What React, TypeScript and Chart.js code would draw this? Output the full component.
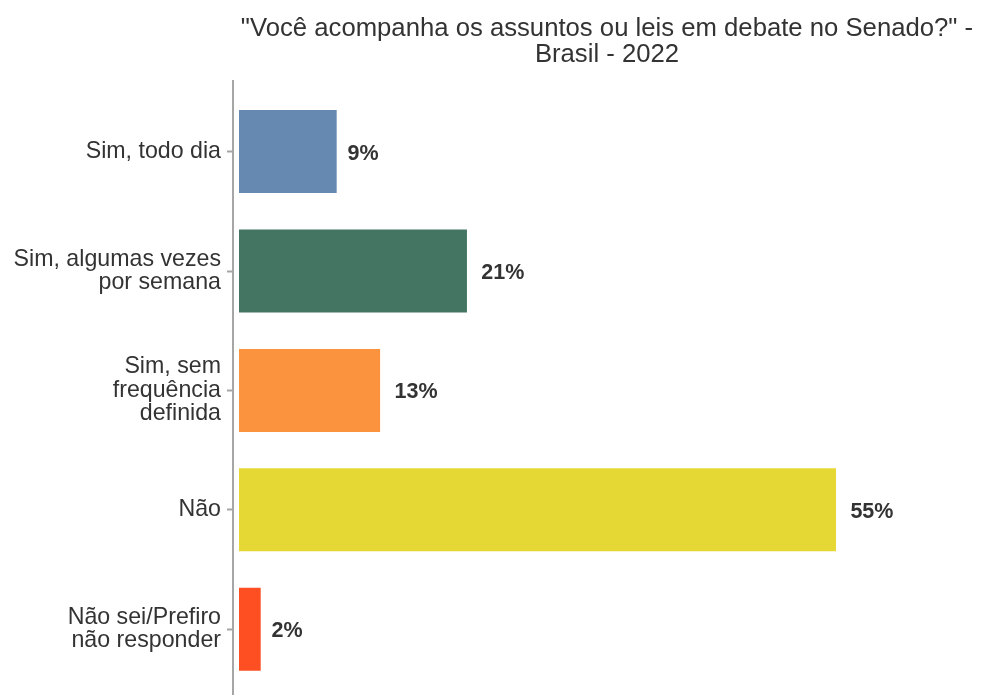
import React, { useEffect, useRef } from "react";
import { Chart, registerables } from "chart.js";

Chart.register(...registerables);

const categories: (string | string[])[] = [
  "Sim, todo dia",
  ["Sim, algumas vezes", "por semana"],
  ["Sim, sem", "frequência", "definida"],
  "Não",
  ["Não sei/Prefiro", "não responder"],
];
const values: number[] = [9, 21, 13, 55, 2];
const valueLabels: string[] = ["9%", "21%", "13%", "55%", "2%"];
const barColors: string[] = ["#6689b1", "#447563", "#fb923e", "#e5d835", "#fe4f23"];
const titleLines: string[] = [
  '"Você acompanha os assuntos ou leis em debate no Senado?" -',
  "Brasil - 2022",
];

const FONT = "'Liberation Sans', Arial, sans-serif";

const valueLabelPlugin = {
  id: "valueLabels",
  afterDatasetsDraw(chart: any) {
    const ctx = chart.ctx;
    const meta = chart.getDatasetMeta(0);
    ctx.save();
    ctx.font = `bold 21.5px ${FONT}`;
    ctx.fillStyle = "#333333";
    ctx.textAlign = "left";
    ctx.textBaseline = "middle";
    meta.data.forEach((bar: any, i: number) => {
      const w = ctx.measureText(valueLabels[i]).width;
      ctx.fillText(valueLabels[i], bar.x + 1.5 + 0.3 * w, bar.y + 2);
    });
    ctx.restore();
  },
};

const axisLinePlugin = {
  id: "axisLine",
  beforeDatasetsDraw(chart: any) {
    const ctx = chart.ctx;
    const x = chart.chartArea.left;
    ctx.save();
    ctx.strokeStyle = "#a6a6a6";
    ctx.lineWidth = 2;
    ctx.beginPath();
    ctx.moveTo(x, chart.chartArea.top - 12);
    ctx.lineTo(x, chart.height);
    ctx.stroke();
    ctx.restore();
  },
};

export default function App() {
  const ref = useRef<HTMLCanvasElement | null>(null);
  useEffect(() => {
    document.body.style.margin = "0";
    const canvas = ref.current;
    if (!canvas) return;
    const chart = new Chart(canvas, {
      type: "bar",
      data: {
        labels: categories as any,
        datasets: [
          {
            data: values,
            backgroundColor: barColors,
            borderWidth: 0,
            barPercentage: 0.695,
            categoryPercentage: 1,
          },
        ],
      },
      options: {
        indexAxis: "y",
        responsive: false,
        animation: false,
        devicePixelRatio: 1,
        layout: { padding: { top: 0, right: 0, bottom: 6, left: 0 } },
        plugins: {
          legend: { display: false },
          tooltip: { enabled: false },
          title: {
            display: true,
            fullSize: false,
            text: titleLines,
            color: "#333333",
            font: { family: FONT, size: 25.7, weight: "normal", lineHeight: 1.0 },
            padding: { top: 16, bottom: 24.5 },
          },
        },
        scales: {
          x: {
            display: false,
            min: -0.5528,
            max: 68.36,
          },
          y: {
            afterFit(scale: any) {
              scale.width = 233;
              scale.paddingTop = 0;
              scale.paddingBottom = 0;
            },
            border: { display: false },
            grid: {
              display: true,
              offset: false,
              drawOnChartArea: false,
              drawTicks: true,
              tickLength: 6,
              tickWidth: 2,
              tickColor: "#a6a6a6",
            },
            ticks: {
              color: "#333333",
              padding: 6,
              font: { family: FONT, size: 23.2, lineHeight: 1.01 },
            },
          },
        },
      },
      plugins: [axisLinePlugin, valueLabelPlugin],
    });
    return () => chart.destroy();
  }, []);
  return (
    <div style={{ width: 981, height: 695 }}>
      <canvas ref={ref} width={981} height={695} style={{ width: 981, height: 695, display: "block" }} />
    </div>
  );
}
